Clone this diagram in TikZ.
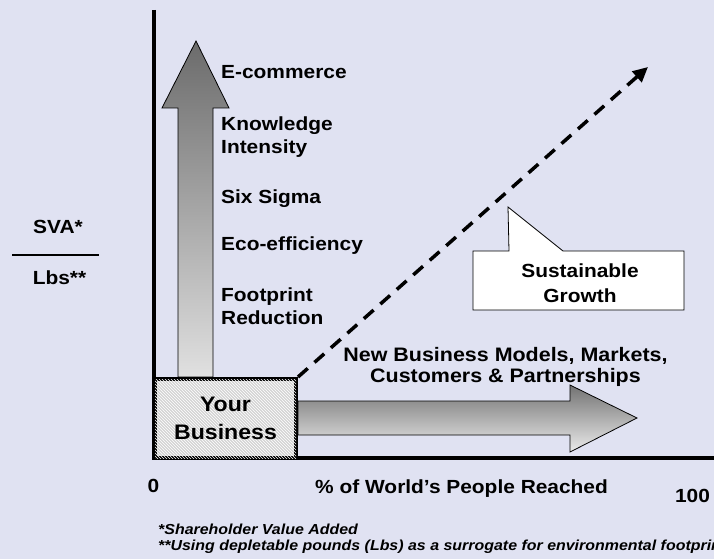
\documentclass[tikz,border=0pt]{standalone}
\usepackage{fontspec}
\setmainfont{Liberation Sans}[FakeStretch=1.1]
\usetikzlibrary{arrows.meta,patterns}
\definecolor{slidebg}{RGB}{224,226,242}
\definecolor{boxgray}{RGB}{212,212,212}

\begin{document}
\begin{tikzpicture}[x=1pt, y=-1pt,
  lbl/.style={font=\bfseries\fontsize{19}{23}\selectfont, inner sep=0pt, align=left},
  foot/.style={font=\bfseries\itshape\fontsize{14.5}{16}\selectfont, inner sep=0pt, anchor=base west},
  axisline/.style={line width=3.5pt},
  bigarrow/.style={draw=black, line width=0.8pt},
  dashline/.style={line width=3.5pt, dash pattern=on 13pt off 9pt, -{Triangle[length=15pt,width=14pt]}}]
\useasboundingbox[fill=slidebg] (0,0) rectangle (714,559);
\coordinate (ytop) at (154,10);
\coordinate (origin) at (154,458);
\coordinate (xend) at (714,458);
\draw[axisline] (ytop) -- (origin) -- (xend);
\draw[bigarrow, top color=black!58, bottom color=black!12] (178,377) -- (178,108) -- (162,108) -- (196,41) -- (229,108) -- (213,108) -- (213,377) -- cycle;
\draw[bigarrow, top color=black!55, bottom color=black!8] (298,401) -- (570,401) -- (570,385) -- (637,418) -- (570,452) -- (570,435) -- (298,435) -- cycle;
\node[draw, line width=4pt, fill=boxgray, postaction={pattern=north west lines, pattern color=white},
  minimum width=141pt, minimum height=79pt, align=center,
  font=\bfseries\fontsize{21}{28}\selectfont] (biz) at (225.5,418.5) {Your\\Business};
\coordinate (growthtip) at (648,67);
\draw[dashline] (biz.north east) -- (growthtip);
\draw[fill=white, line width=0.8pt] (473,251) -- (509,251) -- (508,207) -- (563,251) -- (684,251) -- (684,310) -- (473,310) -- cycle;
\node[lbl, align=center, font=\bfseries\fontsize{19}{25}\selectfont] (growth) at (580,282.8) {Sustainable\\Growth};
\node[lbl, anchor=west] (ecom) at (221,72.4) {E-commerce};
\node[lbl, anchor=west] (know) at (221,136.7) {Knowledge\\Intensity};
\node[lbl, anchor=west] (sigma) at (221,198.2) {Six Sigma};
\node[lbl, anchor=west] (eco) at (221,245.2) {Eco-efficiency};
\node[lbl, anchor=west] (foot) at (221,306.7) {Footprint\\Reduction};
\node[lbl, align=center, font=\bfseries\fontsize{19.5}{21}\selectfont] (newbiz) at (505.5,366.7) {New Business Models, Markets,\\Customers \& Partnerships};
\node[lbl, anchor=base] (sva) at (58,233) {SVA*};
\draw[line width=2.5pt] (12,255) -- (99,255);
\node[lbl, anchor=base] (lbs) at (59.5,284) {Lbs**};
\node[lbl, anchor=base] (zero) at (153.5,492) {0};
\node[lbl, anchor=base west] (xlabel) at (315,493) {\% of World’s People Reached};
\node[lbl, anchor=base] (hundred) at (692.5,502) {100};
\node[foot] (note1) at (158,534) {*Shareholder Value Added};
\node[foot] (note2) at (158,550) {**Using depletable pounds (Lbs) as a surrogate for environmental footprint};
\end{tikzpicture}
\end{document}
